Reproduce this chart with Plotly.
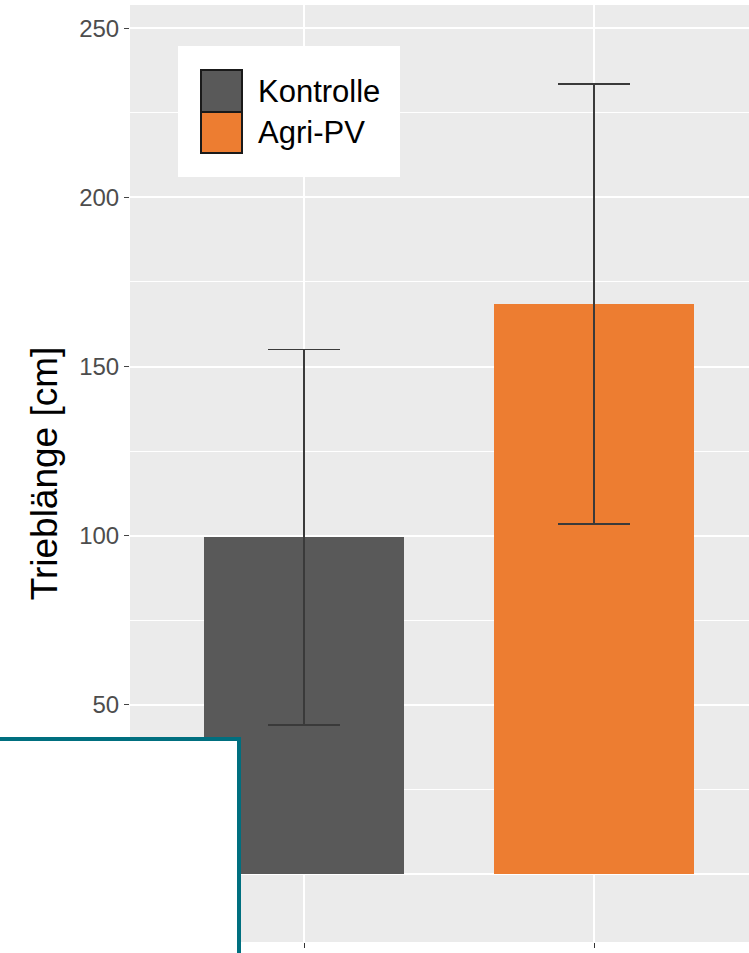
import plotly.graph_objects as go

# ---- data ----
categories = ["Kontrolle", "Agri-PV"]
positions = [1, 2]
means = [99.6, 168.5]
sd = [55.5, 65.0]
bar_colors = ["#595959", "#ED7D31"]
y_tickvals = [0, 50, 100, 150, 200, 250]
y_ticktext = ["0", "50", "100", "150", "200", "250"]
y_title = "Trieblänge [cm]"

W, H = 749, 953
ML, MR, MT, MB = 130, 0, 5, 11
PW = W - ML - MR
PH = H - MT - MB
PANEL_TOP = MT
PANEL_BOT = H - MB

def px_x(p):
    return (p - ML) / PW

def px_y(p):
    return (PANEL_BOT - p) / PH

PX_PER_UNIT = 3.383
ZERO_PX = 874.0
y_lo = -(PANEL_BOT - ZERO_PX) / PX_PER_UNIT
y_hi = (ZERO_PX - PANEL_TOP) / PX_PER_UNIT

fig = go.Figure()
fig.add_trace(go.Bar(
    x=positions, y=means,
    width=0.69,
    marker=dict(color=bar_colors, line=dict(width=0)),
    error_y=dict(type="data", array=sd, visible=True,
                 color="#3A3A3A", thickness=1.5, width=36),
    showlegend=False,
    hovertext=categories,
))

shapes = []
# manual legend box
shapes.append(dict(type="rect", xref="paper", yref="paper", layer="above",
                   x0=px_x(178), x1=px_x(400), y0=px_y(177), y1=px_y(46),
                   fillcolor="white", line=dict(width=0)))
key_rows = [(70, 112), (112, 153)]
for (top, bot), col in zip(key_rows, bar_colors):
    shapes.append(dict(type="rect", xref="paper", yref="paper", layer="above",
                       x0=px_x(201), x1=px_x(242), y0=px_y(bot), y1=px_y(top),
                       fillcolor=col, line=dict(color="#1A1A1A", width=2)))
# covering box lower left
shapes.append(dict(type="rect", xref="paper", yref="paper", layer="above",
                   x0=px_x(-10), x1=px_x(239), y0=px_y(990), y1=px_y(739),
                   fillcolor="white", line=dict(color="#006F7F", width=4)))

annotations = []
for (top, bot), name in zip(key_rows, categories):
    annotations.append(dict(xref="paper", yref="paper", x=px_x(256), y=px_y((top + bot) / 2),
                            xanchor="left", yanchor="middle", showarrow=False,
                            text=name,
                            font=dict(family="Liberation Sans, Arial", size=31, color="#000000")))

fig.update_layout(
    width=W, height=H,
    margin=dict(l=ML, r=MR, t=MT, b=MB, autoexpand=False),
    paper_bgcolor="white",
    plot_bgcolor="#EBEBEB",
    bargap=0,
    shapes=shapes,
    annotations=annotations,
    showlegend=False,
)
fig.update_xaxes(
    range=[0.4, 0.4 + PW / 290.0],
    tickvals=positions, ticktext=categories, showticklabels=False,
    ticks="outside", ticklen=5, tickcolor="#333333", tickwidth=1,
    showgrid=True, gridcolor="white", gridwidth=1.5,
    zeroline=False, showline=False, automargin=False,
)
fig.update_yaxes(
    range=[y_lo, y_hi],
    tickvals=y_tickvals, ticktext=y_ticktext,
    ticks="outside", ticklen=5, tickcolor="#444444", tickwidth=1,
    tickfont=dict(family="Liberation Sans, Arial", size=24, color="#4D4D4D"),
    showgrid=True, gridcolor="white", gridwidth=1.5,
    minor=dict(tick0=25, dtick=50, showgrid=True, gridcolor="white", gridwidth=0.8, ticks=""),
    zeroline=False, showline=False, automargin=False,
    title=dict(text=y_title, standoff=10,
               font=dict(family="Liberation Sans, Arial", size=37, color="#000000")),
)

fig.write_html(
    "out.html",
    config={"displayModeBar": False},
    post_script="document.body.style.margin='0';document.body.style.overflow='hidden';",
)
